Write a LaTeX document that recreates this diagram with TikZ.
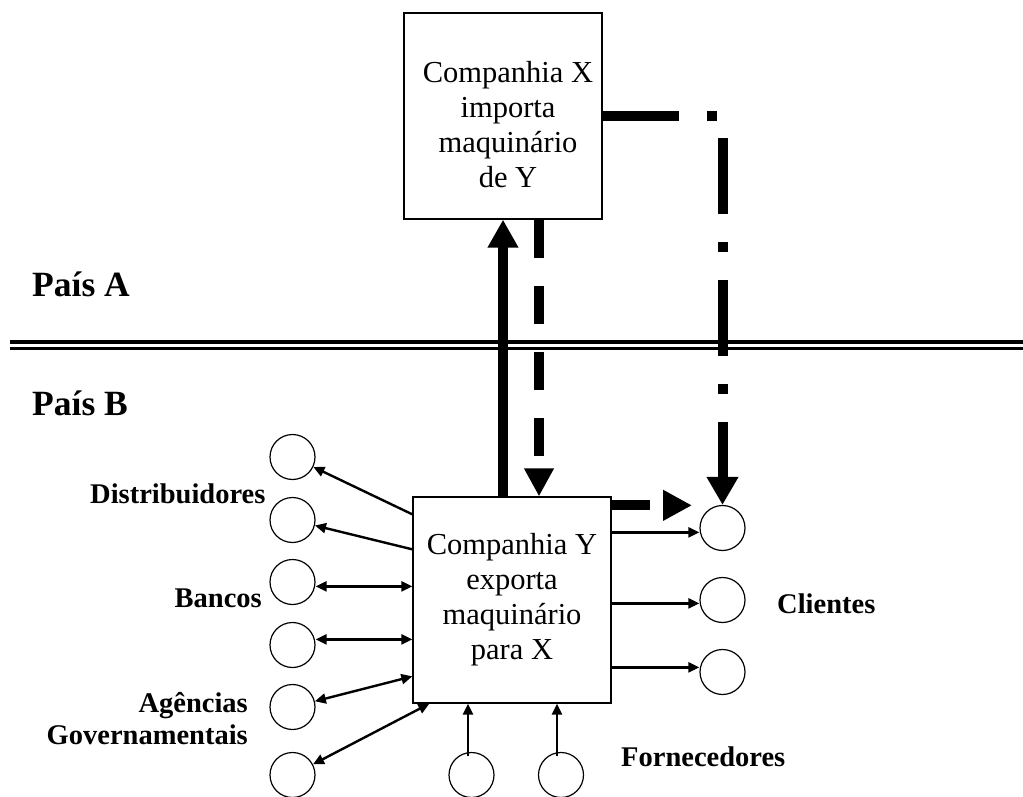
\documentclass[tikz,border=0pt]{standalone}
\usepackage{fontspec}
\setmainfont{Liberation Serif}
\usetikzlibrary{arrows.meta}
\begin{document}
\begin{tikzpicture}[x=1pt,y=-1pt,
  box/.style={draw,line width=1.3pt,rectangle,minimum width=198pt,minimum height=206pt,inner sep=0pt},
  circ/.style={draw,circle,line width=1.2pt,minimum size=45pt,inner sep=0pt},
  link/.style={line width=2.4pt,-{Triangle[length=11pt,width=10pt]}},
  dlink/.style={line width=2.4pt,{Triangle[length=11pt,width=10pt]}-{Triangle[length=11pt,width=10pt]}},
  boxtxt/.style={font=\fontsize{30.5}{35}\selectfont,align=center,inner sep=0pt},
  lbl/.style={font=\fontsize{28.5}{32}\selectfont\bfseries,inner sep=0pt},
  country/.style={font=\fontsize{35.5}{40}\selectfont\bfseries,inner sep=0pt},
  heavy/.style={line width=10pt},
  border/.style={line width=3.5pt}
]
\useasboundingbox (0,0) rectangle (1023,797);

% border between countries
\coordinate (bl1) at (10,342);
\coordinate (br1) at (1023,342);
\coordinate (bl2) at (10,348.5);
\coordinate (br2) at (1023,348.5);
\draw[border] (bl1) -- (br1);
\draw[border] (bl2) -- (br2);

% boxes
\node[box] (bx) at (503,116) {};
\node[boxtxt] (tx) at (508,125) {Companhia X\\importa\\maquinário\\de Y};
\node[box,boxtxt] (by) at (512,600) {Companhia Y\\exporta\\maquinário\\para X};

% circles
\node[circ] (L1) at (292.5,457) {};
\node[circ] (L2) at (292.5,520) {};
\node[circ] (L3) at (292.5,582) {};
\node[circ] (L4) at (292.5,645) {};
\node[circ] (L5) at (292.5,707) {};
\node[circ] (L6) at (292.5,775) {};
\node[circ] (R1) at (722.5,528) {};
\node[circ] (R2) at (722.5,600) {};
\node[circ] (R3) at (722.5,672) {};
\node[circ] (B1) at (471.5,775) {};
\node[circ] (B2) at (561,775) {};

% heavy connectors
\draw[heavy,-{Triangle[width=29pt,length=28pt]}] ([xshift=-9pt]by.north) -- (bx.south);
\draw[heavy,dash pattern=on 38pt off 28pt,-{Triangle[width=28pt,length=28pt]}] ([xshift=36pt]bx.south) -- ([xshift=27pt]by.north);
\draw[heavy,dash pattern=on 76pt off 28pt on 10pt off 28pt,-{Triangle[width=30pt,length=28pt]}] (bx.east) -| (R1.north);
\coordinate (ys) at ([yshift=-9pt]by.north east);
\coordinate (tipY) at (692,506);
\draw[heavy,dash pattern=on 38pt off 28pt,-{Triangle[width=29pt,length=29pt]}] (ys) -- (ys -| tipY);

% left connectors
\coordinate (p1) at ([yshift=-18pt]by.north west);
\coordinate (p2) at ([yshift=-53pt]by.north west);
\coordinate (p3) at ([yshift=-90pt]by.north west);
\coordinate (p4) at ([yshift=-143pt]by.north west);
\coordinate (p5) at ([yshift=-180pt]by.north west);
\coordinate (p6) at ([xshift=17pt]by.south west);
\draw[link] (p1) -- (L1);
\draw[link] (p2) -- (L2);
\draw[dlink] (p3) -- (p3 -| L3.east);
\draw[dlink] (p4) -- (p4 -| L4.east);
\draw[dlink] (p5) -- (L5);
\draw[dlink] (p6) -- (L6);

% right connectors
\coordinate (q1) at ([yshift=-36pt]by.north east);
\coordinate (q2) at ([yshift=-107pt]by.north east);
\coordinate (q3) at ([yshift=-171pt]by.north east);
\draw[link] (q1) -- (q1 -| R1.west);
\draw[link] (q2) -- (q2 -| R2.west);
\draw[link] (q3) -- (q3 -| R3.west);

% bottom connectors
\coordinate (b1s) at ([xshift=-3.5pt,yshift=-4pt]B1.north);
\coordinate (b2s) at ([xshift=-4pt,yshift=-4pt]B2.north);
\draw[link] (b1s) -- (b1s |- by.south);
\draw[link] (b2s) -- (b2s |- by.south);

% labels
\node[country,anchor=base west] (pa) at (32,296) {País A};
\node[country,anchor=base west] (pb) at (32,415) {País B};
\node[lbl,anchor=base west] (dist) at (90,503) {Distribuidores};
\node[lbl,anchor=base east] (banc) at (262,607) {Bancos};
\node[lbl,anchor=base east] (ag1) at (248,712) {Agências};
\node[lbl,anchor=base east] (ag2) at (248,744) {Governamentais};
\node[lbl,anchor=base west] (cli) at (777,613) {Clientes};
\node[lbl,anchor=base west] (forn) at (621,766) {Fornecedores};
\end{tikzpicture}
\end{document}
